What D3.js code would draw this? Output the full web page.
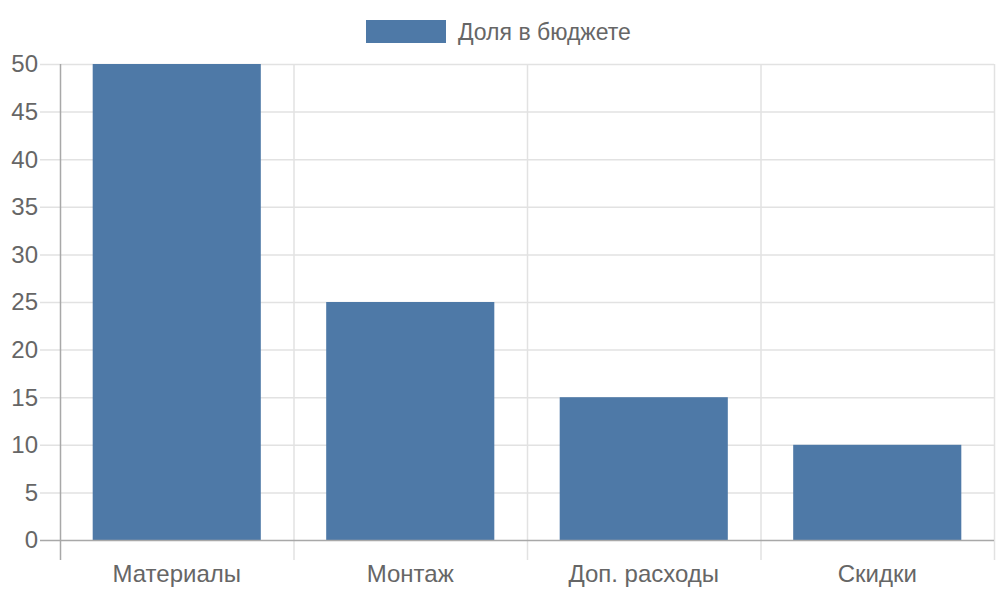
<!DOCTYPE html>
<html>
<head>
<meta charset="utf-8">
<script src="https://cdn.jsdelivr.net/npm/d3@7"></script>
<style>
  body { margin: 0; background: #fff; }
  svg text { font-family: "Liberation Sans", Arial, sans-serif; fill: #666; }
</style>
</head>
<body>
<div id="chart"></div>
<script>
const categories = ['Материалы', 'Монтаж', 'Доп. расходы', 'Скидки'];
const values = [50, 25, 15, 10];
const yTicks = [0, 5, 10, 15, 20, 25, 30, 35, 40, 45, 50];
const seriesName = 'Доля в бюджете';

const w = 1000, h = 600;
const plotLeft = 60, plotRight = 994, plotTop = 64, plotBottom = 540;
const barColor = '#4e79a7';

const svg = d3.select('#chart').append('svg')
  .attr('width', w)
  .attr('height', h);

const xScale = d3.scaleBand()
  .domain(categories)
  .range([plotLeft, plotRight]);

const yScale = d3.scaleLinear()
  .domain([0, 50])
  .range([plotBottom, plotTop]);

// horizontal grid
svg.append('g')
  .selectAll('line')
  .data(yTicks.filter(t => t !== 0))
  .enter()
  .append('line')
  .attr('x1', plotLeft - 20)
  .attr('x2', plotRight)
  .attr('y1', d => yScale(d) + 0.5)
  .attr('y2', d => yScale(d) + 0.5)
  .attr('stroke', '#e2e2e2')
  .attr('stroke-width', 1.5);

// vertical grid (category boundaries)
const bounds = categories.map(c => xScale(c)).concat([plotRight]);
svg.append('g')
  .selectAll('line')
  .data(bounds.slice(1))
  .enter()
  .append('line')
  .attr('x1', d => d + 0.5)
  .attr('x2', d => d + 0.5)
  .attr('y1', plotTop)
  .attr('y2', plotBottom + 20)
  .attr('stroke', '#e2e2e2')
  .attr('stroke-width', 1.5);

// bars
svg.append('g')
  .selectAll('rect')
  .data(values)
  .enter()
  .append('rect')
  .attr('x', (d, i) => xScale(categories[i]) + xScale.bandwidth() * 0.14)
  .attr('width', xScale.bandwidth() * 0.72)
  .attr('y', d => yScale(d))
  .attr('height', d => yScale(0) - yScale(d))
  .attr('fill', barColor);

// axis lines
svg.append('line')
  .attr('x1', plotLeft + 0.5).attr('x2', plotLeft + 0.5)
  .attr('y1', plotTop).attr('y2', plotBottom + 20)
  .attr('stroke', '#a8a8a8').attr('stroke-width', 1.5);

svg.append('line')
  .attr('x1', plotLeft - 20).attr('x2', plotRight)
  .attr('y1', plotBottom + 0.5).attr('y2', plotBottom + 0.5)
  .attr('stroke', '#a8a8a8').attr('stroke-width', 1.5);

// y labels
svg.append('g')
  .selectAll('text')
  .data(yTicks)
  .enter()
  .append('text')
  .attr('x', 38)
  .attr('y', d => yScale(d))
  .attr('dy', '0.35em')
  .attr('text-anchor', 'end')
  .attr('font-size', 24)
  .text(d => d);

// x labels
svg.append('g')
  .selectAll('text')
  .data(categories)
  .enter()
  .append('text')
  .attr('x', d => xScale(d) + xScale.bandwidth() / 2)
  .attr('y', 582)
  .attr('text-anchor', 'middle')
  .attr('font-size', 24)
  .text(d => d);

// legend
const legend = svg.append('g');
legend.append('rect')
  .attr('x', 366).attr('y', 20)
  .attr('width', 80).attr('height', 23)
  .attr('fill', barColor);
legend.append('text')
  .attr('x', 458).attr('y', 40)
  .attr('font-size', 23)
  .text(seriesName);
</script>
</body>
</html>
